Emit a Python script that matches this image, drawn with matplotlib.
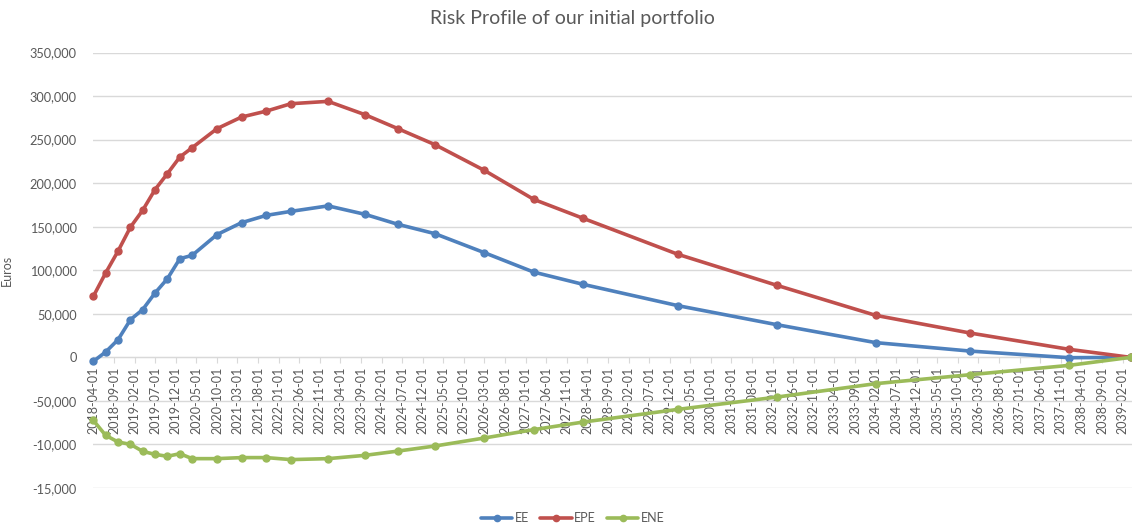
import pandas as pd
import matplotlib
matplotlib.use("Agg")
from matplotlib import pyplot as plt

plt.rcParams['font.family'] = ['Lato', 'DejaVu Sans']

# exposure dates
dates = ["2018-04-01", "2018-07-01", "2018-10-01", "2019-01-01", "2019-04-01",
         "2019-07-01", "2019-10-01", "2020-01-01", "2020-04-01", "2020-10-01",
         "2021-04-01", "2021-10-01", "2022-04-01", "2023-01-01", "2023-10-01",
         "2024-06-01", "2025-03-01", "2026-03-01", "2027-03-01", "2028-03-01",
         "2030-02-01", "2032-02-01", "2034-02-01", "2036-01-01", "2038-01-01",
         "2039-04-01"]

ee = [-4600, 6100, 20300, 43300, 54800, 73800, 90300, 113300, 117100, 140900,
      154600, 163000, 167600, 173900, 164200, 152700, 142000, 120200, 97900, 83800,
      59300, 37500, 16900, 7200, -400, 0]
epe = [70000, 96800, 122000, 149600, 168800, 192500, 210900, 230000, 240700, 262500,
       275900, 282700, 291200, 293900, 278600, 262500, 244200, 214700, 181400, 159600,
       118200, 82700, 48200, 27900, 9200, 0]
ene = [-72300, -89500, -97200, -99900, -107900, -111400, -113600, -110600, -116300, -116300,
       -115100, -115100, -117400, -116300, -112500, -107600, -101800, -92600, -83000, -74300,
       -59700, -45600, -30200, -19900, -9200, 0]

y_ticks = [-150000, -100000, -50000, 0, 50000, 100000, 150000, 200000, 250000, 300000, 350000]
y_labels = ["-15,000", "-10,000", "-50,000", "0", "50,000", "100,000", "150,000",
            "200,000", "250,000", "300,000", "350,000"]

x = pd.to_datetime(dates)
x_ticks = pd.date_range("2018-04-01", "2039-02-01", freq="5MS")

grey = "#595959"
W, H = 1132, 527
fig = plt.figure(figsize=(W / 100, H / 100), dpi=100)
ax = fig.add_axes([93.3 / W, 1 - 488 / H, (1132 - 93.3) / W, (488 - 52.5) / H])

series = [("EE", ee, "#4f81bd"), ("EPE", epe, "#c0504d"), ("ENE", ene, "#9bbb59")]
for name, vals, col in series:
    ax.plot(x, vals, color=col, linewidth=2.6, marker="o", markersize=5, label=name,
            solid_capstyle="round", clip_on=False, zorder=3)

ax.set_ylim(-150000, 350000)
ax.set_xlim(x[0], x[-1] + pd.Timedelta(days=10))
ax.set_yticks(y_ticks, y_labels)
ax.set_xticks(x_ticks, [d.strftime("%Y-%m-%d") for d in x_ticks])

ax.grid(axis="y", color="#d9d9d9", linewidth=1)
ax.set_axisbelow(True)
for s in ["top", "right", "left"]:
    ax.spines[s].set_visible(False)
ax.spines["bottom"].set_position(("data", 0))
ax.spines["bottom"].set_color("#d9d9d9")

ax.tick_params(axis="x", rotation=90, labelsize=9, labelcolor=grey, color="#d9d9d9",
               length=4, pad=3)
ax.tick_params(axis="y", labelsize=9.2, labelcolor=grey, length=0, pad=12)

ax.set_ylabel("Euros", fontsize=9, color=grey, labelpad=12)
fig.text(0.506, 0.965, "Risk Profile of our initial portfolio", ha="center", va="center",
         fontsize=14, color=grey)

fig.legend(loc="center", bbox_to_anchor=(0.506, 0.017), ncol=3, frameon=False,
           fontsize=9, labelcolor=grey, handlelength=2.5, columnspacing=0.9,
           handletextpad=0.2, markerscale=0.9)

fig.savefig("out.png", dpi=100)
